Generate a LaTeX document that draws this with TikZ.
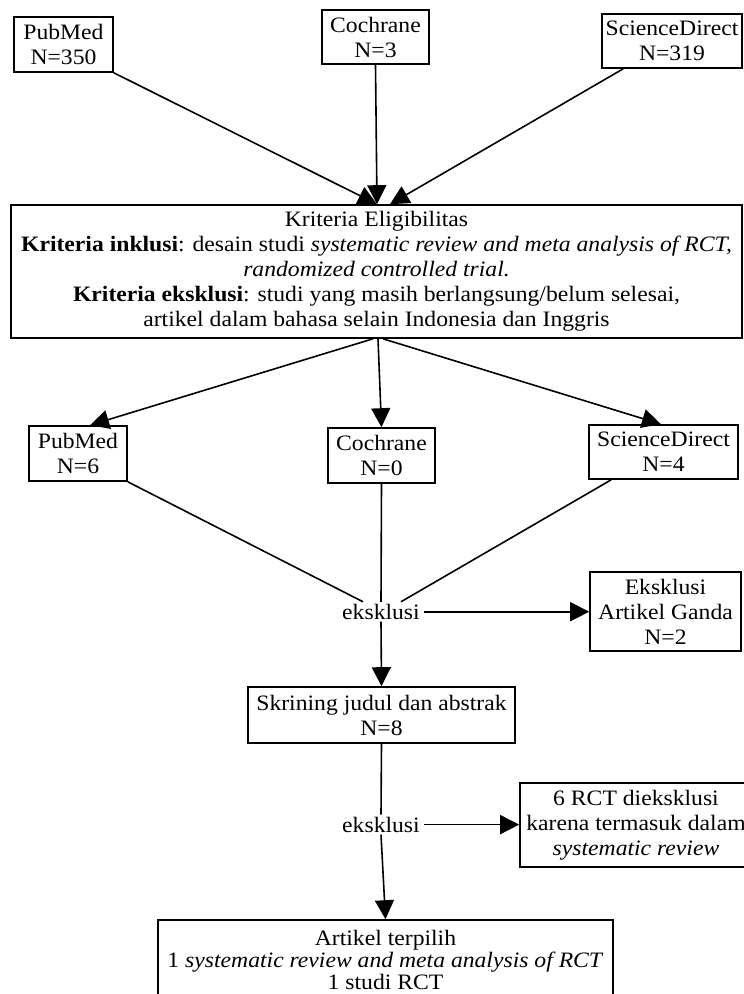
\documentclass[tikz,border=0pt]{standalone}
\usepackage{fontspec}
\setmainfont{Liberation Serif}[FakeStretch=1.075]
\usetikzlibrary{arrows.meta,calc}
\begin{document}
\begin{tikzpicture}[x=1pt,y=-1pt,
  txt/.style={font=\fontsize{22}{25}\selectfont},
  box/.style={txt,draw,line width=1.6pt,align=center,inner sep=0pt},
  lbl/.style={txt,inner xsep=4pt,inner ysep=2pt},
  conn/.style={line width=1.6pt},
  arr/.style={conn,-{Triangle[length=19pt,width=19pt]}}]
\fill[white] (0,0) rectangle (744,994);
\useasboundingbox (0,0) rectangle (744,994);

% top row
\node[box,minimum width=99pt,minimum height=55pt] (pm1) at (63.5,44.5) {PubMed\\N=350};
\node[box,minimum width=107pt,minimum height=54pt] (co1) at (375.5,37) {Cochrane\\N=3};
\node[box,minimum width=140pt,minimum height=54pt] (sd1) at (672,41) {ScienceDirect\\N=319};

% criteria
\node[box,minimum width=731pt,minimum height=133pt] (crit) at (376.5,271.5)
 {Kriteria Eligibilitas\\
  \textbf{Kriteria inklusi}: desain studi \textit{systematic review and meta analysis of RCT,}\\
  \textit{randomized controlled trial.}\\
  \textbf{Kriteria eksklusi}: studi yang masih berlangsung/belum selesai,\\
  artikel dalam bahasa selain Indonesia dan Inggris};

% second row
\node[box,minimum width=98pt,minimum height=55pt] (pm2) at (78,453.5) {PubMed\\N=6};
\node[box,minimum width=107pt,minimum height=55pt] (co2) at (381.5,455.5) {Cochrane\\N=0};
\node[box,minimum width=149pt,minimum height=54pt] (sd2) at (663.5,452) {ScienceDirect\\N=4};

% exclusion 1
\node[lbl] (eks1) at (381,611.7) {eksklusi};
\node[box,minimum width=151pt,minimum height=79pt] (ex1) at (665.5,611.5) {Eksklusi\\Artikel Ganda\\N=2};

% screening
\node[box,minimum width=267pt,minimum height=56pt] (skr) at (381.5,715) {Skrining judul dan abstrak\\N=8};

% exclusion 2
\node[lbl] (eks2) at (381,824.6) {eksklusi};
\node[box,minimum width=232pt,minimum height=84pt] (rct) at (636,825)
 {6 RCT dieksklusi\\karena termasuk dalam\\\textit{systematic review}};

% final
\node[box,minimum width=455pt,minimum height=80pt,font=\fontsize{22}{22}\selectfont] (fin) at (385.5,960)
 {Artikel terpilih\\1 \textit{systematic review and meta analysis of RCT}\\1 studi RCT};

% connectors
\coordinate (t1) at ($(crit.north)+(0.5,0)$);
\coordinate (t2) at ($(crit.north)+(13.5,0)$);
\draw[arr] (pm1.south east) -- (t1);
\draw[arr] (co1.south) -- (t1);
\draw[arr] ($(sd1.south west)+(22,0)$) -- (t2);

\draw[arr] ($(crit.south)+(-3.5,0)$) -- ($(pm2.north)+(12,0)$);
\draw[arr] ($(crit.south)+(1.5,0)$) -- (co2.north);
\draw[arr] ($(crit.south)+(6.5,0)$) -- ($(sd2.north)+(-2.5,0)$);

\draw[conn] (pm2.south east) -- ($(eks1.north)+(-18,0)$);
\draw[conn] (co2.south) -- (eks1.north);
\draw[conn] ($(sd2.south west)+(23,0)$) -- ($(eks1.north)+(20,0)$);
\draw[arr] (eks1.east) -- (eks1.east -| ex1.west);
\draw[arr] (eks1.south) -- (skr.north);

\draw[conn] (skr.south) -- (eks2.north);
\draw[arr] (eks2.east) -- (eks2.east -| rct.west);
\draw[arr] (eks2.south) -- (fin.north);
\end{tikzpicture}
\end{document}
